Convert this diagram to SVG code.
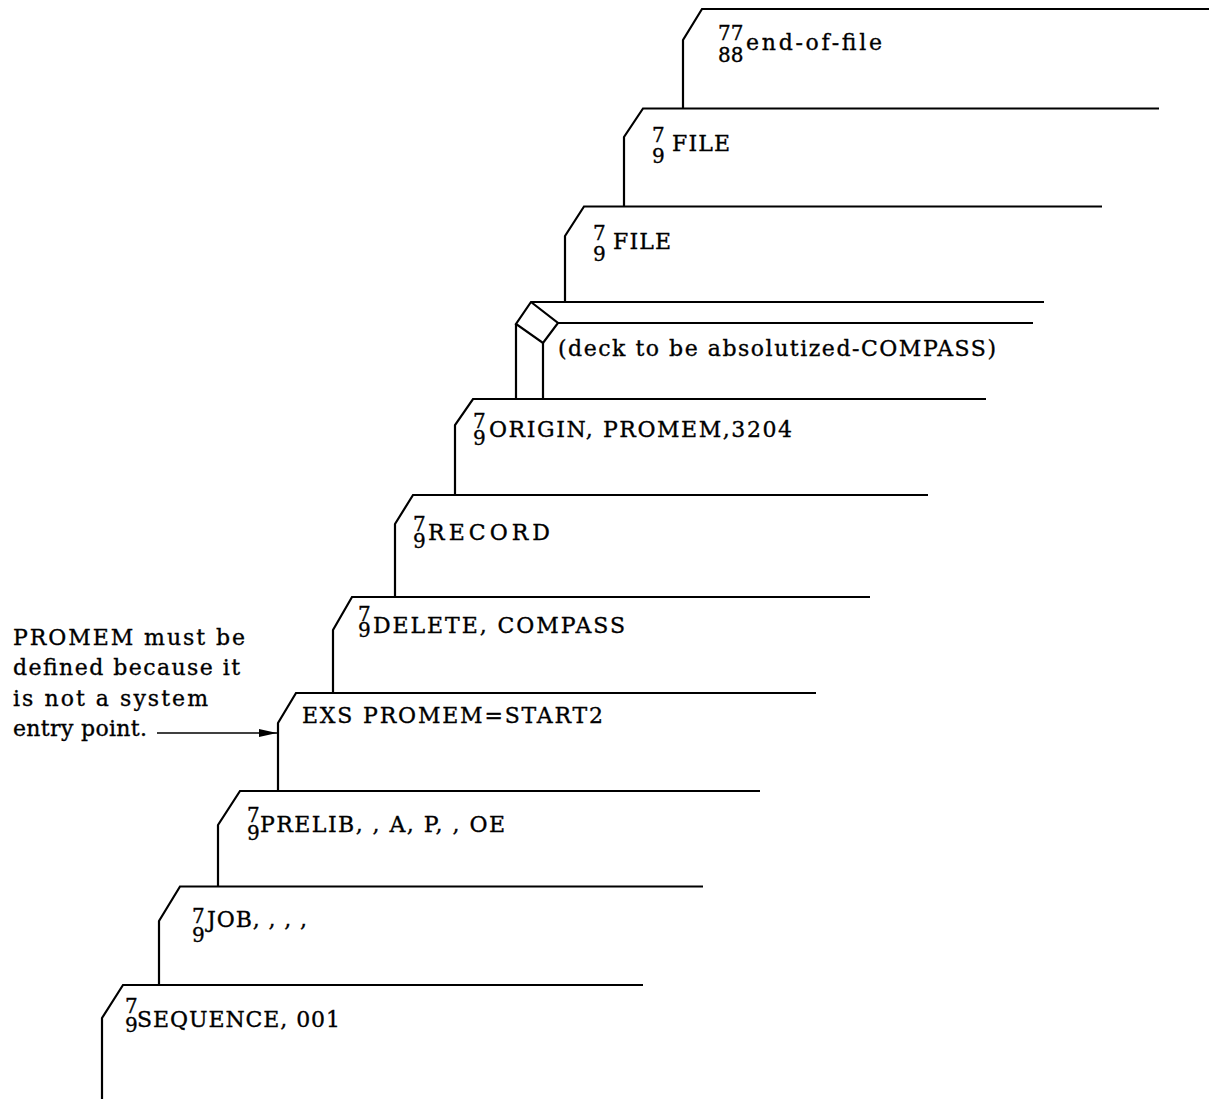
<svg xmlns="http://www.w3.org/2000/svg" width="1209" height="1099" viewBox="0 0 1209 1099">
  <style>
    .card { fill: none; stroke: #000; stroke-width: 2.2; stroke-linejoin: miter; }
    .t { font-family: "DejaVu Serif", "Liberation Serif", serif; font-size: 22px; fill: #000; stroke: #000; stroke-width: 0.35; }
    .d { font-family: "DejaVu Serif", "Liberation Serif", serif; font-size: 20px; fill: #000; stroke: #000; stroke-width: 0.35; }
    .note { font-family: "DejaVu Serif", "Liberation Serif", serif; font-size: 22px; fill: #000; stroke: #000; stroke-width: 0.35; }
    .lead { stroke: #000; stroke-width: 1.6; fill: none; }
  </style>
  <defs>
    <marker id="arrowhead" markerUnits="userSpaceOnUse" markerWidth="18" markerHeight="8" refX="18" refY="4" orient="auto">
      <path d="M0,0 L18,4 L0,8 Z" fill="#000"/>
    </marker>
  </defs>
  <rect width="1209" height="1099" fill="#fff"/>

  <!-- punched-card deck, last card on top -->
  <g id="card-eof">
    <path class="card" d="M683,108.5 L683,40 L702,9 L1209,9"/>
    <text class="d"><tspan x="718" y="40">77</tspan><tspan x="718" y="61.5">88</tspan></text>
    <text class="t" x="746" y="50" textLength="136" lengthAdjust="spacing">end-of-file</text>
  </g>

  <g id="card-file-2">
    <path class="card" d="M624,206.5 L624,137 L643,108.5 L1159,108.5"/>
    <text class="d"><tspan x="652" y="141.5">7</tspan><tspan x="652" y="163">9</tspan></text>
    <text class="t" x="672" y="151" textLength="58" lengthAdjust="spacing">FILE</text>
  </g>

  <g id="card-file-1">
    <path class="card" d="M565,302 L565,236 L584,206.5 L1102,206.5"/>
    <text class="d"><tspan x="593" y="239.5">7</tspan><tspan x="593" y="261">9</tspan></text>
    <text class="t" x="613" y="249" textLength="58" lengthAdjust="spacing">FILE</text>
  </g>

  <g id="deck-compass">
    <path class="card" d="M1044,302 L531,302 L516,324 L543,343 L558,323 L531,302"/>
    <path class="card" d="M558,323 L1033,323"/>
    <path class="card" d="M516,324 L516,399 M543,343 L543,399"/>
    <text class="t" x="558" y="356" textLength="438" lengthAdjust="spacing">(deck to be absolutized-COMPASS)</text>
  </g>

  <g id="card-origin">
    <path class="card" d="M455,495 L455,425 L473,399 L986,399"/>
    <text class="d"><tspan x="473" y="428">7</tspan><tspan x="473" y="445">9</tspan></text>
    <text class="t" x="489" y="437" textLength="303" lengthAdjust="spacing">ORIGIN, PROMEM,3204</text>
  </g>

  <g id="card-record">
    <path class="card" d="M395,597 L395,524 L413,495 L928,495"/>
    <text class="d"><tspan x="413" y="531">7</tspan><tspan x="413" y="548">9</tspan></text>
    <text class="t" x="428" y="540" textLength="122" lengthAdjust="spacing">RECORD</text>
  </g>

  <g id="card-delete">
    <path class="card" d="M333,693 L333,630 L352,597 L870,597"/>
    <text class="d"><tspan x="358" y="621">7</tspan><tspan x="358" y="637">9</tspan></text>
    <text class="t" x="373" y="633" textLength="252" lengthAdjust="spacing">DELETE, COMPASS</text>
  </g>

  <g id="card-exs">
    <path class="card" d="M278,791 L278,723 L296,693 L816,693"/>
    <text class="t" x="302" y="723" textLength="301" lengthAdjust="spacing">EXS PROMEM=START2</text>
  </g>

  <g id="card-prelib">
    <path class="card" d="M218,886.5 L218,825 L240,791 L760,791"/>
    <text class="d"><tspan x="247" y="822">7</tspan><tspan x="247" y="840">9</tspan></text>
    <text class="t" x="260" y="832" textLength="245" lengthAdjust="spacing">PRELIB, , A, P, , OE</text>
  </g>

  <g id="card-job">
    <path class="card" d="M159,985 L159,921 L180,886.5 L703,886.5"/>
    <text class="d"><tspan x="192" y="923">7</tspan><tspan x="192" y="941.5">9</tspan></text>
    <text class="t" x="207" y="927" textLength="100" lengthAdjust="spacing">JOB, , , ,</text>
  </g>

  <g id="card-sequence">
    <path class="card" d="M102,1099 L102,1018 L123,985 L643,985"/>
    <text class="d"><tspan x="125" y="1013">7</tspan><tspan x="125" y="1032">9</tspan></text>
    <text class="t" x="137" y="1027" textLength="203" lengthAdjust="spacing">SEQUENCE, 001</text>
  </g>

  <!-- side note -->
  <g id="note-promem">
    <text class="note" x="13" y="645" textLength="232" lengthAdjust="spacing">PROMEM must be</text>
    <text class="note" x="13" y="675" textLength="227" lengthAdjust="spacing">defined because it</text>
    <text class="note" x="13" y="706" textLength="195" lengthAdjust="spacing">is not a system</text>
    <text class="note" x="13" y="736" textLength="134" lengthAdjust="spacing">entry point.</text>
  </g>

  <g id="connectors">
    <line class="lead" x1="157" y1="733" x2="277" y2="733" marker-end="url(#arrowhead)"/>
  </g>
</svg>
